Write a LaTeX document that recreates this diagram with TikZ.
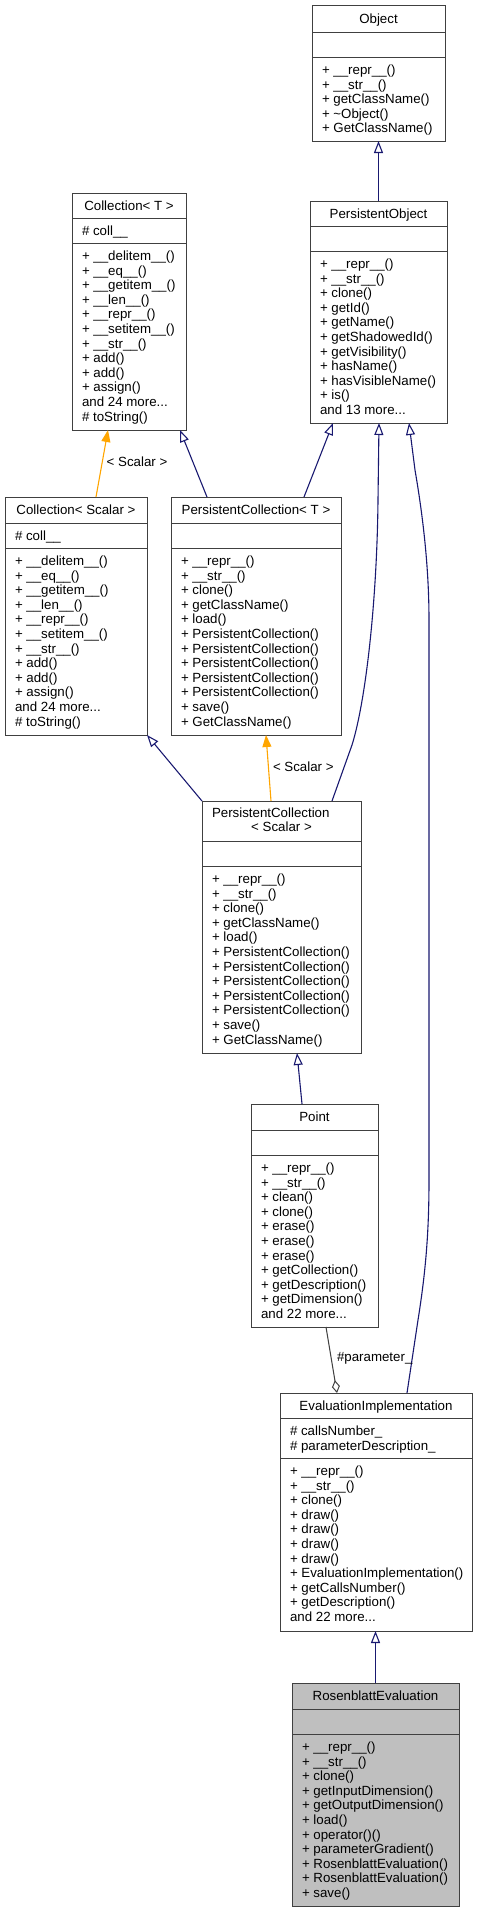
\documentclass[tikz,border=0pt]{standalone}
\usepackage{fontspec}
\setmainfont{Liberation Sans}
\usetikzlibrary{arrows.meta,calc}
\definecolor{edgeblue}{HTML}{191970}
\definecolor{edgeorange}{HTML}{FFA500}
\definecolor{boxline}{HTML}{404040}
\definecolor{hilite}{HTML}{BFBFBF}
\tikzset{
  every node/.style={font=\fontsize{13.3}{14.6}\selectfont, inner sep=0pt, outer sep=0pt},
  clsframe/.style={draw=boxline, line width=1pt, fill=white, rectangle},
  clsline/.style={draw=boxline, line width=1pt},
  ttl/.style={anchor=base},
  mem/.style={anchor=base west},
  lbl/.style={text=black},
  inh/.style={draw=edgeblue, line width=1.1pt, -{Triangle[open, length=12pt, width=9pt]}},
  tmpl/.style={draw=edgeorange, line width=1.1pt, -{Triangle[length=12pt, width=9pt]}},
  aggr/.style={draw=boxline, line width=1pt, -{Diamond[open, length=13pt, width=8pt]}},
}
\newcommand\andmore[1]{and #1 more...}
\newcommand\clsbox[8]{%
  \node[clsframe,#8,anchor=north west,minimum width={(#4-#2)*1pt},minimum height={(#7-#3)*1pt}] (#1) at (#2,#3) {};
  \draw[clsline] (#2,#5) -- (#4,#5);
  \draw[clsline] (#2,#6) -- (#4,#6);
}
\newcommand\clstitle[4]{\node[ttl] (#1) at (#2,#3) {#4};}
\newcommand\clsmembers[4]{%
  \foreach \mtext [count=\mi] in {#4} {\node[mem] (#1-\mi) at (#2,{#3+(\mi-1)*14.6}) {\mtext};}
}
\begin{document}
\begin{tikzpicture}[x=1pt,y=-1pt]
\useasboundingbox (0,0) rectangle (477,1912);

% Object
\clsbox{obj}{312}{5}{445}{32}{57}{141}{}
\clstitle{obj-t}{378.5}{23.2}{Object}
\clsmembers{obj-m}{322}{74.5}{+ \_\_repr\_\_(), + \_\_str\_\_(), + getClassName(), + \textasciitilde Object(), + GetClassName()}

% PersistentObject
\clsbox{po}{310}{201}{447}{226}{251}{423}{}
\clstitle{po-t}{378.5}{218.2}{PersistentObject}
\clsmembers{po-m}{320}{268.5}{+ \_\_repr\_\_(), + \_\_str\_\_(), + clone(), + getId(), + getName(), + getShadowedId(), + getVisibility(), + hasName(), + hasVisibleName(), + is(), \andmore{13}}

% Collection< T >
\clsbox{ct}{72}{193}{186}{218}{243}{430}{}
\clstitle{ct-t}{129}{210.2}{Collection< T >}
\clsmembers{ct-a}{82}{235.5}{\# coll\_\_}
\clsmembers{ct-m}{82}{260.5}{+ \_\_delitem\_\_(), + \_\_eq\_\_(), + \_\_getitem\_\_(), + \_\_len\_\_(), + \_\_repr\_\_(), + \_\_setitem\_\_(), + \_\_str\_\_(), + add(), + add(), + assign(), \andmore{24}, \# toString()}

% Collection< Scalar >
\clsbox{cs}{5}{497}{147}{523}{548}{735}{}
\clstitle{cs-t}{76}{514.7}{Collection< Scalar >}
\clsmembers{cs-a}{15}{540.5}{\# coll\_\_}
\clsmembers{cs-m}{15}{565.5}{+ \_\_delitem\_\_(), + \_\_eq\_\_(), + \_\_getitem\_\_(), + \_\_len\_\_(), + \_\_repr\_\_(), + \_\_setitem\_\_(), + \_\_str\_\_(), + add(), + add(), + assign(), \andmore{24}, \# toString()}

% PersistentCollection< T >
\clsbox{pct}{171}{497}{341}{523}{548}{735}{}
\clstitle{pct-t}{256}{514.7}{PersistentCollection< T >}
\clsmembers{pct-m}{181}{565.5}{+ \_\_repr\_\_(), + \_\_str\_\_(), + clone(), + getClassName(), + load(), + PersistentCollection(), + PersistentCollection(), + PersistentCollection(), + PersistentCollection(), + PersistentCollection(), + save(), + GetClassName()}

% PersistentCollection< Scalar >
\clsbox{pcs}{202}{801}{361}{841}{866}{1053}{}
\node[anchor=base west] (pcs-t1) at (212,817.7) {PersistentCollection};
\node[anchor=base] (pcs-t2) at (281.5,831.7) {< Scalar >};
\clsmembers{pcs-m}{212}{883.5}{+ \_\_repr\_\_(), + \_\_str\_\_(), + clone(), + getClassName(), + load(), + PersistentCollection(), + PersistentCollection(), + PersistentCollection(), + PersistentCollection(), + PersistentCollection(), + save(), + GetClassName()}

% Point
\clsbox{pt}{251}{1104}{378}{1130}{1155}{1327}{}
\clstitle{pt-t}{314.5}{1121.7}{Point}
\clsmembers{pt-m}{261}{1172.5}{+ \_\_repr\_\_(), + \_\_str\_\_(), + clean(), + clone(), + erase(), + erase(), + erase(), + getCollection(), + getDescription(), + getDimension(), \andmore{22}}

% EvaluationImplementation
\clsbox{ev}{280}{1393}{472}{1418}{1458}{1631}{}
\clstitle{ev-t}{376}{1410.2}{EvaluationImplementation}
\clsmembers{ev-a}{290}{1435.5}{\# callsNumber\_, \# parameterDescription\_}
\clsmembers{ev-m}{290}{1475.5}{+ \_\_repr\_\_(), + \_\_str\_\_(), + clone(), + draw(), + draw(), + draw(), + draw(), + EvaluationImplementation(), + getCallsNumber(), + getDescription(), \andmore{22}}

% RosenblattEvaluation
\clsbox{re}{292}{1683}{459}{1709}{1734}{1906}{fill=hilite}
\clstitle{re-t}{375.5}{1700.7}{RosenblattEvaluation}
\clsmembers{re-m}{302}{1751.5}{+ \_\_repr\_\_(), + \_\_str\_\_(), + clone(), + getInputDimension(), + getOutputDimension(), + load(), + operator()(), + parameterGradient(), + RosenblattEvaluation(), + RosenblattEvaluation(), + save()}

% connectors
\draw[inh] (po.north) -- (obj.south);
\draw[tmpl] ([xshift=91pt]cs.north west) -- ([xshift=36pt]ct.south west);
\node[lbl,anchor=base] (lab1) at (137,466.7) {< Scalar >};
\draw[inh] ([xshift=36pt]pct.north west) -- ([xshift=108pt]ct.south west);
\draw[inh] ([xshift=133pt]pct.north west) -- ([xshift=23pt]po.south west);
\draw[inh] (pcs.north west) -- (cs.south east);
\draw[tmpl] ([xshift=69pt]pcs.north west) -- ([xshift=95pt]pct.south west);
\node[lbl,anchor=base west] (lab2) at (273,771.7) {< Scalar >};
\draw[inh] ([xshift=130pt]pcs.north west) -- (352,745) .. controls (366,700) and (377,600) .. (378,500) -- ([xshift=69pt]po.south west);
\draw[inh] ([xshift=51pt]pt.north west) -- ([xshift=95pt]pcs.south west);
\draw[inh] ([xshift=127pt]ev.north west) -- (418,1320) .. controls (426,1270) and (429,1230) .. (429,1180) -- (429,620) .. controls (429,560) and (421,505) .. (415,470) -- ([xshift=99pt]po.south west);
\draw[aggr] ([xshift=75pt]pt.south west) -- ([xshift=57pt]ev.north west);
\node[lbl,anchor=base west] (lab3) at (337,1361.7) {\#parameter\_};
\draw[inh] (re.north) -- (re.north |- ev.south);
\end{tikzpicture}
\end{document}
